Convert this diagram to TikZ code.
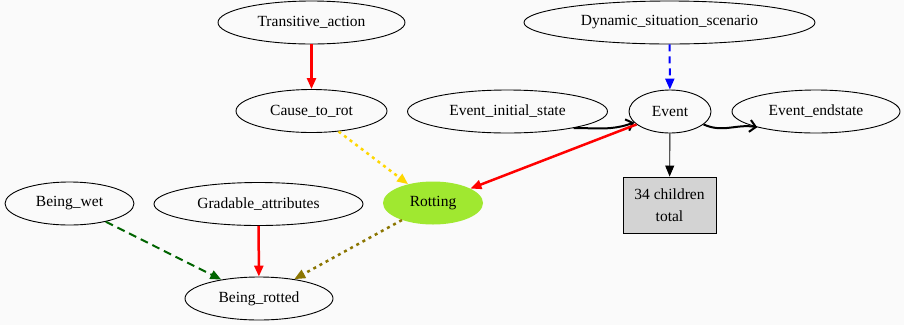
\documentclass[tikz,border=0pt]{standalone}
\usepackage{fontspec}
\setmainfont{Liberation Serif}
\usetikzlibrary{arrows.meta,shapes.geometric}
\definecolor{bgc}{RGB}{250,250,250}
\definecolor{rotc}{RGB}{160,232,48}
\definecolor{goldc}{RGB}{255,215,0}
\definecolor{olivec}{RGB}{139,117,0}
\definecolor{dgreen}{RGB}{0,100,0}
\definecolor{boxc}{RGB}{211,211,211}
\begin{document}
\begin{tikzpicture}[x=1pt,y=1pt,
  every node/.style={font=\fontsize{15.5}{22}\selectfont, text=black},
  ell/.style={ellipse,draw,line width=0.9pt,inner sep=0pt,minimum height=43pt},
  redarrow/.style={draw=red,line width=2.5pt,-{Triangle[length=11pt,width=9pt]},shorten >=0pt},
  bluedash/.style={draw=blue,line width=2pt,dash pattern=on 7pt off 5pt,-{Triangle[length=11pt,width=9pt]}},
  golddot/.style={draw=goldc,line width=2.5pt,dash pattern=on 3pt off 4pt,-{Triangle[length=11pt,width=9pt]}},
  olivedot/.style={draw=olivec,line width=2.5pt,dash pattern=on 3pt off 4pt,-{Triangle[length=11pt,width=9pt]}},
  greendash/.style={draw=dgreen,line width=2pt,dash pattern=on 8pt off 5pt,-{Triangle[length=11pt,width=9pt]}},
  blackcurve/.style={draw=black,line width=2pt,-{Straight Barb[length=6pt,width=12pt]}},
  thinarrow/.style={draw=black,line width=0.9pt,-{Triangle[length=11pt,width=9pt]}}
]
\useasboundingbox[fill=bgc] (0,0) rectangle (904,-325);

\node[ell,minimum width=187pt] (ta) at (311.5,-22.5) {Transitive\_action};
\node[ell,minimum width=291pt] (dss) at (669.5,-22.5) {Dynamic\_situation\_scenario};
\node[ell,minimum width=151pt] (ctr) at (311.5,-111) {Cause\_to\_rot};
\node[ell,minimum width=200pt] (eis) at (507.5,-111.5) {Event\_initial\_state};
\node[ell,minimum width=82pt] (ev) at (670,-111.5) {Event};
\node[ell,minimum width=168pt] (ees) at (816,-111.5) {Event\_endstate};
\node[ellipse,fill=rotc,draw=none,inner sep=0pt,minimum height=43pt,minimum width=100pt] (rot) at (433,-203) {Rotting};
\node[rectangle,draw,line width=0.9pt,fill=boxc,minimum width=93pt,minimum height=56pt,inner sep=0pt,align=center] (box) at (669.5,-205) {34 children\\total};
\node[ell,minimum width=129pt] (bw) at (69.5,-203.5) {Being\_wet};
\node[ell,minimum width=209pt] (ga) at (258.5,-204) {Gradable\_attributes};
\node[ell,minimum width=148pt] (br) at (259,-298.5) {Being\_rotted};

\draw[redarrow] (ta) -- (ctr);
\draw[bluedash] (dss) -- (ev);
\draw[golddot] (ctr) -- (rot);
\draw[blackcurve] (eis.-14) to[out=0,in=200] (ev.197);
\draw[blackcurve] (ev.-21) to[out=-25,in=170] (ees.195);
\draw[redarrow] (ev) -- (rot);
\draw[thinarrow] (ev) -- (box);
\draw[greendash] (bw) -- (br);
\draw[redarrow] (ga) -- (br);
\draw[olivedot] (rot) -- (br);
\end{tikzpicture}
\end{document}
